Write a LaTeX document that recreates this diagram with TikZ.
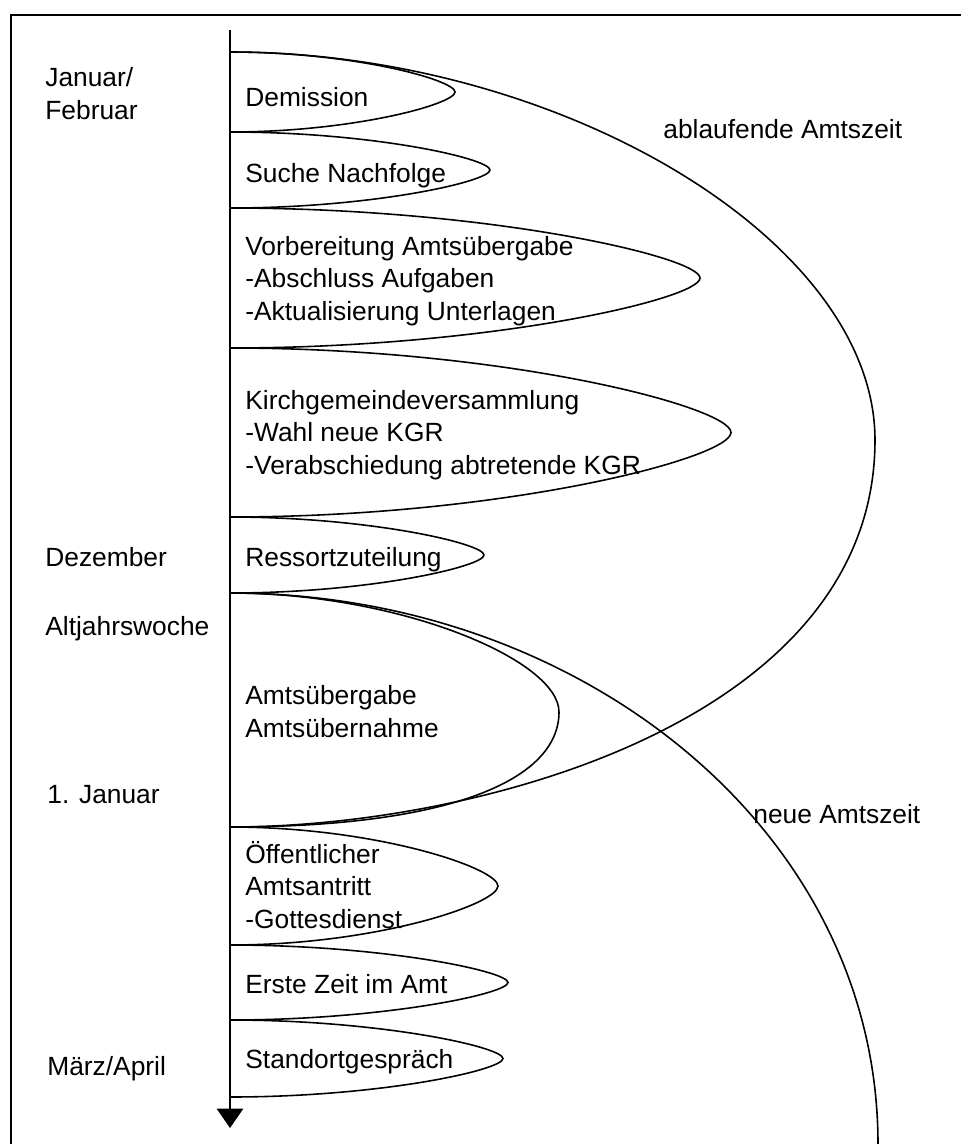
\documentclass[tikz,border=0pt]{standalone}
\usepackage{fontspec}
\setmainfont{Liberation Sans}
\usetikzlibrary{arrows.meta}
\newcommand{\leafloop}[5]{% start coord, end coord, ytop, ybot, xtip
  \draw[curve] (#1) .. controls ({230+0.55*(#5-230)},#3) and (#5,{#3+0.35*(#4-#3)}) .. (#5,{(#3+#4)/2})
    .. controls (#5,{#4-0.35*(#4-#3)}) and ({230+0.55*(#5-230)},#4) .. (#2);}
\begin{document}
\begin{tikzpicture}[x=0.02cm,y=-0.02cm,
  lbl/.style={anchor=base west,inner sep=0pt,align=left,font=\fontsize{15}{18.4}\selectfont},
  curve/.style={line width=0.9pt,black},
  frame/.style={line width=1.1pt,black}]
\useasboundingbox (0,0) rectangle (961,1144);
\draw[frame] (11,1144) -- (11,15) -- (961,15);
% axis points
\coordinate (top) at (230,30);
\coordinate (bot) at (230,1128);
\coordinate (p1) at (230,52);
\coordinate (p2) at (230,132);
\coordinate (p3) at (230,208);
\coordinate (p4) at (230,348);
\coordinate (p5) at (230,517);
\coordinate (p6) at (230,593);
\coordinate (p7) at (230,827);
\coordinate (p8) at (230,945);
\coordinate (p9) at (230,1020);
\coordinate (p10) at (230,1097);
\coordinate (nend) at (878,1144);
\draw[curve,-{Triangle[width=15pt,length=11pt]}] (top) -- (bot);
% loops
\leafloop{p1}{p2}{52}{132}{455}
\leafloop{p2}{p3}{132}{208}{490}
\leafloop{p3}{p4}{208}{348}{700}
\leafloop{p4}{p5}{348}{517}{731}
\leafloop{p5}{p6}{517}{593}{484}
\draw[curve] (p6) .. controls (400,593) and (559,660) .. (559,712) .. controls (559,780) and (450,827) .. (p7);
\leafloop{p7}{p8}{827}{945}{498}
\leafloop{p8}{p9}{945}{1020}{508}
\leafloop{p9}{p10}{1020}{1097}{503}
% big curves
\draw[curve] (p1) .. controls (560,52) and (875,240) .. (875,440) .. controls (875,720) and (480,827) .. (p7);
\draw[curve] (p6) .. controls (580,593) and (878,830) .. (nend);
% labels (multi-line nodes are placed at the baseline of their last line)
\node[lbl] (jan) at (45,119) {Januar/\\Februar};
\node[lbl] (dez) at (45,566) {Dezember};
\node[lbl] (alt) at (45,635) {Altjahrswoche};
\node[lbl] (jan1) at (47,803) {1. Januar};
\node[lbl] (maerz) at (47,1075) {März/April};
\node[lbl] (dem) at (245,106) {Demission};
\node[lbl] (such) at (245,182) {Suche Nachfolge};
\node[lbl] (vorb) at (245,320) {Vorbereitung Amtsübergabe\\-Abschluss Aufgaben\\-Aktualisierung Unterlagen};
\node[lbl] (kirch) at (245,474) {Kirchgemeindeversammlung\\-Wahl neue KGR\\-Verabschiedung abtretende KGR};
\node[lbl] (ress) at (245,566) {Ressortzuteilung};
\node[lbl] (amt) at (245,737) {Amtsübergabe\\Amtsübernahme};
\node[lbl] (oeff) at (245,928) {Öffentlicher\\Amtsantritt\\-Gottesdienst};
\node[lbl] (erste) at (245,993) {Erste Zeit im Amt};
\node[lbl] (stand) at (245,1068) {Standortgespräch};
\node[lbl] (abl) at (663,138) {ablaufende Amtszeit};
\node[lbl] (neu) at (753,823) {neue Amtszeit};
\end{tikzpicture}
\end{document}
